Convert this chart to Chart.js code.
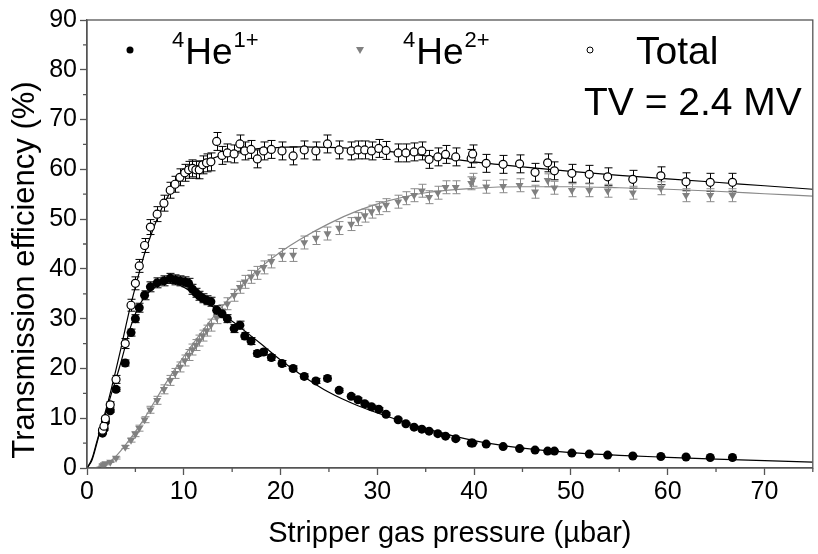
<!DOCTYPE html>
<html>
<head>
<meta charset="utf-8">
<script src="https://cdn.jsdelivr.net/npm/chart.js@4.4.1/dist/chart.umd.min.js"></script>
<style>
  html, body { margin: 0; padding: 0; background: #fff; }
</style>
</head>
<body>
<canvas id="chart" width="818" height="554"></canvas>
<script>
// ---------- data ----------
const pressure = [1.6, 1.75, 1.9, 2.4, 3.0, 3.95, 4.55, 5.0, 5.4, 5.95,
    6.55, 7.25, 7.95, 8.6, 9.1, 9.6, 10.1, 10.5, 10.9, 11.25,
    11.6, 11.95, 12.35, 12.8, 13.4, 13.95, 14.5, 15.2, 15.8, 16.3,
    16.95, 17.6, 18.25, 19.05, 20.15, 21.3, 22.45, 23.65, 24.85, 26.05,
    27.3, 28.0, 28.7, 29.4, 30.15, 30.9, 32.15, 32.95, 33.8, 34.6,
    35.35, 36.25, 37.05, 38.1, 39.7, 39.85, 41.25, 43.0, 44.7, 46.3,
    47.6, 48.3, 50.1, 51.9, 53.8, 56.4, 59.3, 61.9, 64.4, 66.7];

const he1 = [7.0, 7.8, 9.3, 11.5, 15.8, 21.1, 27.2, 30.0, 32.2, 34.7,
    36.4, 37.2, 37.6, 38.1, 37.8, 37.6, 37.4, 37.1, 35.9, 35.2,
    34.6, 34.1, 33.7, 33.4, 31.7, 31.0, 30.0, 28.0, 28.7, 26.5,
    25.5, 23.0, 23.3, 22.2, 21.0, 20.0, 18.4, 17.5, 18.0, 15.6,
    14.4, 13.7, 12.9, 12.3, 11.8, 10.8, 9.7, 8.9, 8.2, 7.8,
    7.4, 6.9, 6.4, 5.9, 5.0, 5.0, 4.8, 4.3, 3.9, 3.6,
    3.4, 3.4, 3.0, 2.8, 2.6, 2.4, 2.3, 2.2, 2.1, 2.1];
const he1Err = [0.2, 0.2, 0.3, 0.3, 0.4, 0.6, 0.7, 0.8, 0.9, 0.9,
    1.0, 1.0, 1.0, 1.0, 1.0, 1.0, 1.0, 1.0, 1.0, 0.9,
    0.9, 0.9, 0.9, 0.9, 0.9, 0.8, 0.8, 0.8, 0.8, 0.7,
    0.7, 0.6, 0.6, 0.6, 0.6, 0.5, 0.5, 0.5, 0.5, 0.4,
    0.4, 0.4, 0.3, 0.3, 0.3, 0.3, 0.3, 0.2, 0.2, 0.2,
    0.2, 0.2, 0.2, 0.2, 0.1, 0.1, 0.1, 0.1, 0.1, 0.1,
    0.1, 0.1, 0.1, 0.1, 0.1, 0.1, 0.1, 0.1, 0.1, 0.1];

const he2 = [0.5, 0.7, 0.9, 1.2, 2.0, 4.2, 5.6, 6.8, 8.0, 9.7,
    11.7, 13.6, 15.8, 17.6, 19.0, 20.3, 21.6, 22.7, 23.8, 24.7,
    25.6, 26.6, 27.6, 28.7, 30.2, 31.6, 33.0, 34.7, 36.3, 37.4,
    38.4, 39.2, 40.3, 41.5, 42.8, 42.8, 45.3, 46.2, 47.1, 48.2,
    49.0, 50.0, 50.7, 51.5, 52.2, 52.8, 53.5, 54.2, 54.8, 55.7,
    54.4, 55.3, 56.4, 56.4, 57.2, 57.9, 56.5, 56.6, 56.8, 55.5,
    57.8, 56.3, 55.8, 55.8, 55.7, 55.3, 56.2, 54.8, 54.8, 54.8];
const he2Err = [0.1, 0.1, 0.1, 0.1, 0.2, 0.3, 0.4, 0.5, 0.6, 0.6,
    0.7, 0.8, 0.9, 1.0, 1.0, 1.0, 1.1, 1.1, 1.1, 1.1,
    1.1, 1.1, 1.1, 1.2, 1.2, 1.2, 1.2, 1.2, 1.2, 1.3,
    1.3, 1.3, 1.3, 1.3, 1.3, 1.3, 1.3, 1.3, 1.3, 1.3,
    1.3, 1.3, 1.3, 1.3, 1.3, 1.3, 1.3, 1.3, 1.3, 1.3,
    1.3, 1.3, 1.3, 1.3, 1.3, 1.3, 1.3, 1.3, 1.3, 1.3,
    1.3, 1.3, 1.3, 1.3, 1.3, 1.3, 1.3, 1.3, 1.3, 1.3];

const total = [7.6, 8.4, 9.9, 12.7, 17.8, 25.0, 32.7, 37.1, 40.6, 44.7,
    48.4, 51.0, 53.2, 55.8, 57.0, 58.4, 59.3, 59.9, 60.2, 59.9,
    59.9, 60.9, 61.3, 61.5, 65.6, 62.8, 63.3, 63.1, 65.1, 63.7,
    64.0, 62.1, 63.7, 64.0, 63.7, 62.7, 63.9, 63.7, 65.1, 63.9,
    63.7, 63.9, 63.9, 63.7, 64.2, 63.8, 63.3, 63.3, 63.5, 63.7,
    62.0, 62.5, 63.0, 62.5, 62.2, 63.1, 61.2, 61.0, 61.1, 59.4,
    61.3, 59.7, 59.2, 59.0, 58.5, 58.0, 58.7, 57.5, 57.4, 57.4];
const totalErr = [0.4, 0.4, 0.5, 0.6, 0.8, 1.0, 1.2, 1.3, 1.3, 1.4,
    1.5, 1.5, 1.6, 1.6, 1.6, 1.7, 1.7, 1.7, 1.7, 1.7,
    1.8, 1.8, 1.8, 1.8, 1.8, 1.8, 1.8, 1.8, 1.8, 1.8,
    1.8, 1.8, 1.8, 1.8, 1.8, 1.8, 1.8, 1.8, 1.8, 1.8,
    1.8, 1.8, 1.8, 1.8, 1.8, 1.8, 1.8, 1.8, 1.8, 1.8,
    1.8, 1.8, 1.8, 1.8, 1.8, 1.8, 1.8, 1.8, 1.8, 1.8,
    1.8, 1.8, 1.8, 1.8, 1.8, 1.8, 1.8, 1.8, 1.8, 1.8];

// fitted curves
const fitX = [0, 0.5, 1, 1.5, 2, 2.5, 3, 3.5, 4, 4.5, 5, 5.5, 6, 6.5, 7, 7.5, 8, 8.5, 9, 9.5,
    10, 11, 12, 13, 14, 15, 16, 18, 20, 22, 25, 28, 31, 35, 40, 45, 50, 55, 60, 65, 70, 75];
const fitHe1 = [0, 1.5, 4.8, 8.5, 11.4, 14.8, 17.9, 21.2, 24.8, 28.3, 31.0, 33.0, 34.5, 35.5, 36.3, 36.8, 37.1, 37.2, 37.1, 36.8,
    36.3, 35.1, 33.8, 32.4, 30.9, 29.5, 28.0, 24.9, 21.7, 18.9, 15.2, 12.5, 10.4, 7.9, 5.5, 4.0, 3.1, 2.55, 2.15, 1.8, 1.5, 1.2];
const fitHe2 = [0, 0.02, 0.15, 0.45, 0.9, 1.5, 2.4, 3.5, 4.7, 6.0, 7.3, 8.7, 10.2, 11.8, 13.4, 15.0, 16.6, 18.1, 19.6, 21.0,
    22.4, 25.1, 27.7, 30.2, 32.5, 34.7, 36.8, 40.4, 43.4, 45.9, 49.1, 51.7, 53.6, 55.3, 56.2, 56.5, 56.5, 56.3, 56.0, 55.6, 55.1, 54.6];
const fitTotal = [0, 1.8, 5.2, 8.6, 12.0, 15.8, 19.8, 24.0, 28.4, 32.6, 36.4, 40.0, 43.4, 46.2, 48.8, 51.2, 53.3, 55.0, 56.5, 57.7,
    58.7, 60.2, 61.3, 62.2, 62.9, 63.4, 63.7, 64.2, 64.4, 64.5, 64.4, 64.1, 63.6, 62.7, 61.5, 60.5, 59.6, 58.8, 58.1, 57.4, 56.7, 56.0];

const xTicks = [0, 10, 20, 30, 40, 50, 60, 70];
const yTicks = [0, 10, 20, 30, 40, 50, 60, 70, 80, 90];
const xMinor = [5, 15, 25, 35, 45, 55, 65, 75];
const yMinor = [5, 15, 25, 35, 45, 55, 65, 75, 85];

const legendItems = [
    { pre: '4', base: 'He', sup: '1+' },
    { pre: '4', base: 'He', sup: '2+' },
    { pre: '', base: 'Total', sup: '' }
];
const noteText = 'TV = 2.4 MV';
const yTitle = 'Transmission efficiency (%)';

const FONT = "'Liberation Sans', Arial, Helvetica, sans-serif";
const AXIS = '#555';
const GREY = '#808080';

const pts = (xs, ys) => xs.map((x, i) => ({ x: x, y: ys[i] }));

// error bars, drawn under the markers
const errorBars = {
    id: 'errorBars',
    beforeDatasetsDraw(chart) {
        const { ctx, scales: { x, y } } = chart;
        chart.data.datasets.forEach(ds => {
            if (!ds.errors) return;
            ctx.save();
            ctx.strokeStyle = ds.errorColor;
            ctx.lineWidth = 1;
            ds.data.forEach((p, i) => {
                const e = ds.errors[i];
                const px = Math.round(x.getPixelForValue(p.x)) + 0.5;
                const t = y.getPixelForValue(p.y + e);
                const b = y.getPixelForValue(p.y - e);
                ctx.beginPath();
                ctx.moveTo(px, t); ctx.lineTo(px, b);
                ctx.moveTo(px - 4, t); ctx.lineTo(px + 4, t);
                ctx.moveTo(px - 4, b); ctx.lineTo(px + 4, b);
                ctx.stroke();
            });
            ctx.restore();
        });
    }
};

// frame, minor ticks, y title, legend and note
const decorations = {
    id: 'decorations',
    afterDraw(chart) {
        const { ctx, chartArea: a, scales: { x, y } } = chart;
        ctx.save();
        ctx.strokeStyle = AXIS;
        ctx.lineWidth = 1.3;
        ctx.strokeRect(a.left, a.top, a.right - a.left, a.bottom - a.top);
        ctx.beginPath();
        xMinor.forEach(v => {
            const px = x.getPixelForValue(v);
            ctx.moveTo(px, a.bottom); ctx.lineTo(px, a.bottom + 4);
        });
        yMinor.forEach(v => {
            const py = y.getPixelForValue(v);
            ctx.moveTo(a.left, py); ctx.lineTo(a.left - 4, py);
        });
        ctx.stroke();

        // y axis title, a bit below the axis middle as in the original
        ctx.save();
        ctx.translate(25, 270);
        ctx.rotate(-Math.PI / 2);
        ctx.fillStyle = '#000';
        ctx.font = '31px ' + FONT;
        ctx.textAlign = 'center';
        ctx.textBaseline = 'middle';
        ctx.fillText(yTitle, 0, 0);
        ctx.restore();

        // legend markers
        ctx.fillStyle = '#000';
        ctx.beginPath(); ctx.arc(130, 50, 3.5, 0, Math.PI * 2); ctx.fill();
        ctx.fillStyle = GREY;
        ctx.beginPath(); ctx.moveTo(356, 47); ctx.lineTo(364, 47); ctx.lineTo(360, 54); ctx.closePath(); ctx.fill();
        ctx.strokeStyle = '#000'; ctx.lineWidth = 1;
        ctx.beginPath(); ctx.arc(590, 50, 3, 0, Math.PI * 2); ctx.stroke();

        // legend labels with superscripts
        ctx.fillStyle = '#000';
        ctx.textBaseline = 'alphabetic';
        ctx.textAlign = 'left';
        const starts = [172, 403, 636];
        legendItems.forEach((it, i) => {
            let cx = starts[i];
            const base = 64;
            if (it.pre) {
                ctx.font = '22px ' + FONT;
                ctx.fillText(it.pre, cx, base - 17);
                cx += ctx.measureText(it.pre).width + 1;
            }
            ctx.font = (it.pre ? '37px ' : '39px ') + FONT;
            ctx.fillText(it.base, cx, base);
            cx += ctx.measureText(it.base).width + 1;
            if (it.sup) {
                ctx.font = '22px ' + FONT;
                ctx.fillText(it.sup, cx, base - 17);
            }
        });
        ctx.font = '39px ' + FONT;
        ctx.fillText(noteText, 584, 115);
        ctx.restore();
    }
};

new Chart(document.getElementById('chart').getContext('2d'), {
    type: 'scatter',
    data: {
        datasets: [
            {
                label: 'Total',
                data: pts(pressure, total),
                errors: totalErr,
                errorColor: '#000',
                pointRadius: 4,
                pointBackgroundColor: '#fff',
                pointBorderColor: '#000',
                pointBorderWidth: 1.2,
                order: 1
            },
            {
                label: '4He1+',
                data: pts(pressure, he1),
                errors: he1Err,
                errorColor: '#000',
                pointRadius: 4.5,
                pointBackgroundColor: '#000',
                pointBorderColor: '#000',
                pointBorderWidth: 0,
                order: 2
            },
            {
                label: '4He2+',
                data: pts(pressure, he2),
                errors: he2Err,
                errorColor: '#8a8a8a',
                pointStyle: 'triangle',
                rotation: 180,
                pointRadius: 4.6,
                pointBackgroundColor: GREY,
                pointBorderColor: GREY,
                pointBorderWidth: 0,
                order: 3
            },
            {
                label: 'fit total',
                data: pts(fitX, fitTotal),
                showLine: true,
                pointRadius: 0,
                borderColor: '#000',
                borderWidth: 1.2,
                cubicInterpolationMode: 'monotone',
                order: 10
            },
            {
                label: 'fit 1+',
                data: pts(fitX, fitHe1),
                showLine: true,
                pointRadius: 0,
                borderColor: '#000',
                borderWidth: 1.2,
                cubicInterpolationMode: 'monotone',
                order: 11
            },
            {
                label: 'fit 2+',
                data: pts(fitX, fitHe2),
                showLine: true,
                pointRadius: 0,
                borderColor: '#8a8a8a',
                borderWidth: 1.2,
                cubicInterpolationMode: 'monotone',
                order: 12
            }
        ]
    },
    options: {
        responsive: false,
        animation: false,
        devicePixelRatio: 1,
        layout: { padding: { top: 20, right: 2, left: 0, bottom: 0 } },
        plugins: {
            legend: { display: false },
            tooltip: { enabled: false }
        },
        scales: {
            x: {
                type: 'linear',
                min: 0,
                max: 75,
                afterBuildTicks: s => { s.ticks = xTicks.map(v => ({ value: v })); },
                afterFit: s => { s.height = 86; },
                ticks: { font: { family: FONT, size: 25 }, color: '#000', padding: 2, maxRotation: 0 },
                grid: { drawOnChartArea: false, tickLength: 7, tickColor: AXIS, tickWidth: 1.3 },
                border: { color: AXIS, width: 1.3 },
                title: {
                    display: true,
                    text: 'Stripper gas pressure (µbar)',
                    font: { family: FONT, size: 29 },
                    color: '#000',
                    padding: { top: 0, bottom: 3 }
                }
            },
            y: {
                type: 'linear',
                min: 0,
                max: 90,
                afterBuildTicks: s => { s.ticks = yTicks.map(v => ({ value: v })); },
                afterFit: s => { s.width = 87; },
                ticks: { font: { family: FONT, size: 25 }, color: '#000', padding: 3 },
                grid: { drawOnChartArea: false, tickLength: 7, tickColor: AXIS, tickWidth: 1.3 },
                border: { color: AXIS, width: 1.3 }
            }
        }
    },
    plugins: [errorBars, decorations]
});
</script>
</body>
</html>
